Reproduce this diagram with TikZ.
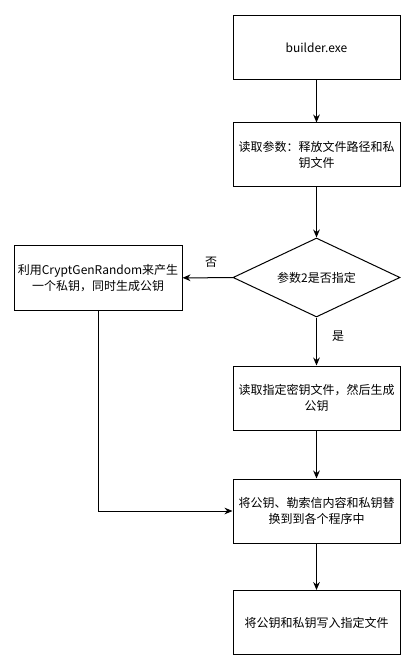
\documentclass[tikz,border=0pt]{standalone}
\usepackage{fontspec}
\setmainfont{Noto Sans CJK SC}
\usetikzlibrary{shapes.geometric,arrows.meta}

\begin{document}
\begin{tikzpicture}[x=0.75pt, y=-0.75pt, font=\fontsize{9}{12}\selectfont,
    stepbox/.style={draw, line width=0.75pt, minimum width=125.25pt, minimum height=48pt, align=center, inner sep=2pt},
    decide/.style={draw, line width=0.75pt, diamond, aspect=2.11, minimum width=125.25pt, minimum height=59.25pt, inner sep=0pt},
    flow/.style={line width=0.75pt, -{Stealth[length=6pt, width=5pt]}}]

\useasboundingbox (0,0) rectangle (420,666);

% main column
\node[stepbox] (builder) at (316.5,48) {builder.exe};
\node[stepbox] (readarg) at (316.5,155) {读取参数：释放文件路径和私\\钥文件};
\node[decide] (check) at (316.5,277.5) {参数2是否指定};
\node[stepbox] (loadkey) at (316.5,398) {读取指定密钥文件，然后生成\\公钥};
\node[stepbox] (replace) at (316.5,511) {将公钥、勒索信内容和私钥替\\换到到各个程序中};
\node[stepbox] (writekey) at (316.5,622.5) {将公钥和私钥写入指定文件};

% left branch
\node[stepbox, minimum width=126pt] (genkey) at (98,278) {利用CryptGenRandom来产生\\一个私钥，同时生成公钥};

\draw[flow] (builder) -- (readarg);
\draw[flow] (readarg) -- (check);
\draw[flow] (check) -- (genkey);
\draw[flow] (check) -- (loadkey);
\draw[flow] (loadkey) -- (replace);
\draw[flow] (replace) -- (writekey);
\draw[flow] (genkey.south) |- (replace.west);

\node (no) at (211,262) {否};
\node (yes) at (338,336) {是};

\end{tikzpicture}
\end{document}
